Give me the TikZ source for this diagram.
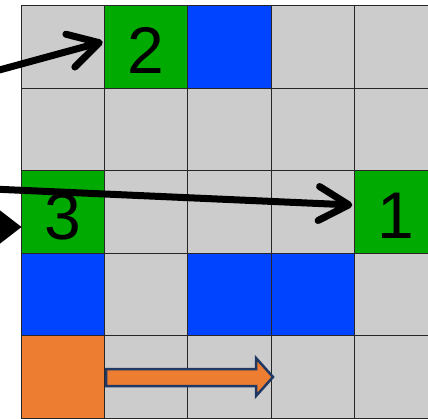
\documentclass[tikz,border=0pt]{standalone}
\usepackage{fontspec}
\setmainfont{Liberation Sans}
\usetikzlibrary{arrows.meta}
\definecolor{cgrey}{HTML}{CCCCCC}
\definecolor{cgreen}{HTML}{00AA00}
\definecolor{cblue}{HTML}{0044FF}
\definecolor{corange}{HTML}{ED7D31}
\definecolor{cnavy}{HTML}{1F3864}
\tikzset{
  cell/.style={draw=black!85, line width=1pt, minimum width=83.2pt, minimum height=82.6pt, inner sep=0pt, outer sep=0pt, anchor=north west},
  num/.style={font=\fontsize{66}{66}\selectfont, text depth=0pt},
  bigarrow/.style={line width=7pt, line cap=round, -{Straight Barb[length=30pt, width=34pt, round]}},
}
\begin{document}
\begin{tikzpicture}[x=1pt, y=-1pt]
\useasboundingbox (0,0) rectangle (428,418);
\clip (0,0) rectangle (428,418);
% cells: row-major, colours
\foreach \r/\row in {0/{cgrey,cgreen,cblue,cgrey,cgrey},
                     1/{cgrey,cgrey,cgrey,cgrey,cgrey},
                     2/{cgreen,cgrey,cgrey,cgrey,cgreen},
                     3/{cblue,cgrey,cblue,cblue,cgrey},
                     4/{corange,cgrey,cgrey,cgrey,cgrey}} {
  \foreach \col [count=\c from 0] in \row {
    \node[cell, fill=\col] (c\r\c) at ({21.5+83.2*\c},{5.5+82.6*\r}) {};
  }
}
% numbers
\node[num] (n2) at ([yshift=-4pt]c01.center) {2};
\node[num] (n3) at ([yshift=-4pt]c20.center) {3};
\node[num] (n1) at ([yshift=-4pt]c24.center) {1};
% arrows
\coordinate (s1) at (-8,72);
\coordinate (t1) at ([xshift=-2pt, yshift=5pt]c01.west);
\draw[bigarrow] (s1) -- (t1);
\coordinate (s2) at (-8,189);
\coordinate (t2) at ([xshift=-2pt, yshift=7pt]c24.west);
\draw[bigarrow] (s2) -- (t2);
% cut-off triangle arrowhead left of 3
\coordinate (t3) at ([yshift=-15pt]c20.west);
\fill[black] (t3) -- ++(-22,-17) -- ++(0,34) -- cycle;
% block arrow
\draw[fill=corange, draw=cnavy, line width=2.5pt, line join=miter]
  (106,369) -- (256,369) -- (256,358) -- (273,377) -- (256,396) -- (256,386) -- (106,386) -- cycle;
\end{tikzpicture}
\end{document}
